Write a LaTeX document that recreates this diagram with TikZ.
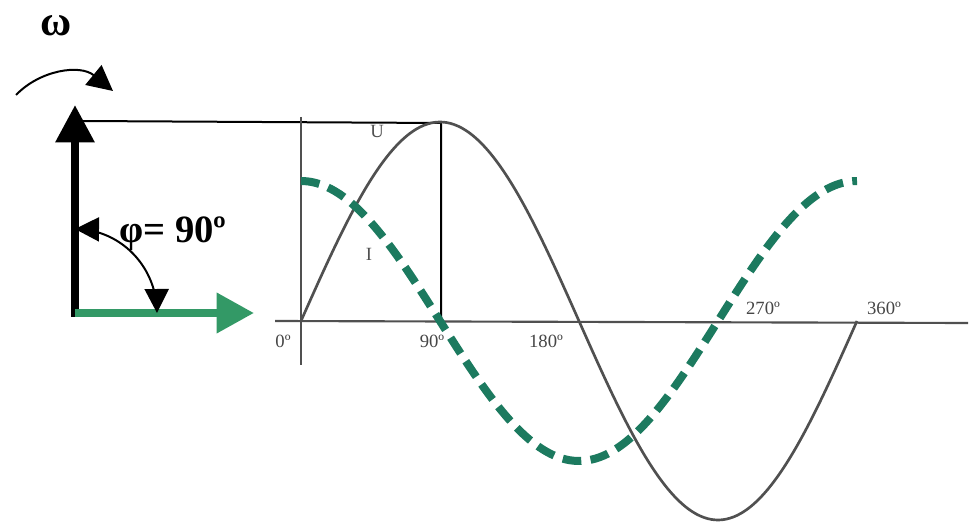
\documentclass[tikz,border=0pt]{standalone}
\usepackage{fontspec}
\setmainfont{Liberation Serif}
\usetikzlibrary{arrows.meta}
\definecolor{vgreen}{RGB}{51,153,102}
\definecolor{iteal}{RGB}{28,122,95}
\definecolor{ugray}{RGB}{80,80,80}
\definecolor{lblgray}{RGB}{70,70,70}
\tikzset{
  phasor/.style={line width=6pt},
  thin line/.style={line width=1.5pt, black},
  axisline/.style={line width=1.6pt, ugray},
  ucurve/.style={line width=2pt, ugray},
  icurve/.style={line width=6pt, iteal, dash pattern=on 14pt off 7pt},
  axlabel/.style={font=\fontsize{14}{14}\selectfont, text=lblgray, inner sep=0pt},
  biglabel/.style={font=\fontsize{29}{29}\selectfont\bfseries, inner sep=0pt}
}
\begin{document}
\begin{tikzpicture}[x=0.75pt, y=-0.75pt]
\useasboundingbox (0,0) rectangle (978,527);
% coordinates
\coordinate (O) at (75,313);
\coordinate (Utip) at (75,105);
\coordinate (Itip) at (254,313);
\coordinate (Hstart) at (82,121);
\coordinate (Corner) at (441,123);
\coordinate (Cfoot) at (441,321);
\coordinate (VaxTop) at (301,117);
\coordinate (VaxBot) at (301,365);
\coordinate (HaxL) at (275,321);
\coordinate (HaxR) at (968,323);
% projection lines
\draw[thin line] (Hstart) -- (Corner) -- (Cfoot);
% axes
\draw[axisline] (VaxTop) -- (VaxBot);
\draw[axisline] (HaxL) -- (HaxR);
% U curve
\draw[ucurve] plot[domain=0:360, samples=150, smooth] ({301+1.54444*\x},{321-199*sin(\x)});
% I curve
\draw[icurve] plot[domain=0:360, samples=150, smooth] ({301+1.54444*\x},{321-140*cos(\x)});
% phasors
\draw[phasor, black, -{Triangle[length=28pt,width=28pt]}] ([yshift=-3pt]O) -- (Utip);
\draw[phasor, vgreen, -{Triangle[length=28pt,width=29pt]}] (O) -- (Itip);
% rotation arrow
\coordinate (Ws) at (16,95);
\coordinate (We) at (113,91);
\draw[line width=1.5pt, -{Triangle[length=19pt,width=19pt]}] (Ws) .. controls (40,70) and (80,64) .. (We);
% angle arc
\draw[line width=1.5pt, {Triangle[length=18pt,width=18pt]}-{Triangle[length=18pt,width=18pt]}]
  plot[domain=90:0, samples=40, smooth] ({75+82*cos(\x)},{313-84*sin(\x)});
% labels
\node[biglabel, font=\fontsize{32}{32}\selectfont\bfseries] (omega) at (56,26) {ω};
\node[biglabel, anchor=base west] (phi) at (119,243) {φ= 90º};
\node[axlabel, text=ugray] (U) at (377,131) {U};
\node[axlabel, text=ugray] (I) at (369,254) {I};
\node[axlabel] (l0) at (283,341) {0º};
\node[axlabel] (l90) at (432,341) {90º};
\node[axlabel] (l180) at (546,341) {180º};
\node[axlabel] (l270) at (763,308) {270º};
\node[axlabel] (l360) at (884,308) {360º};
\end{tikzpicture}
\end{document}
